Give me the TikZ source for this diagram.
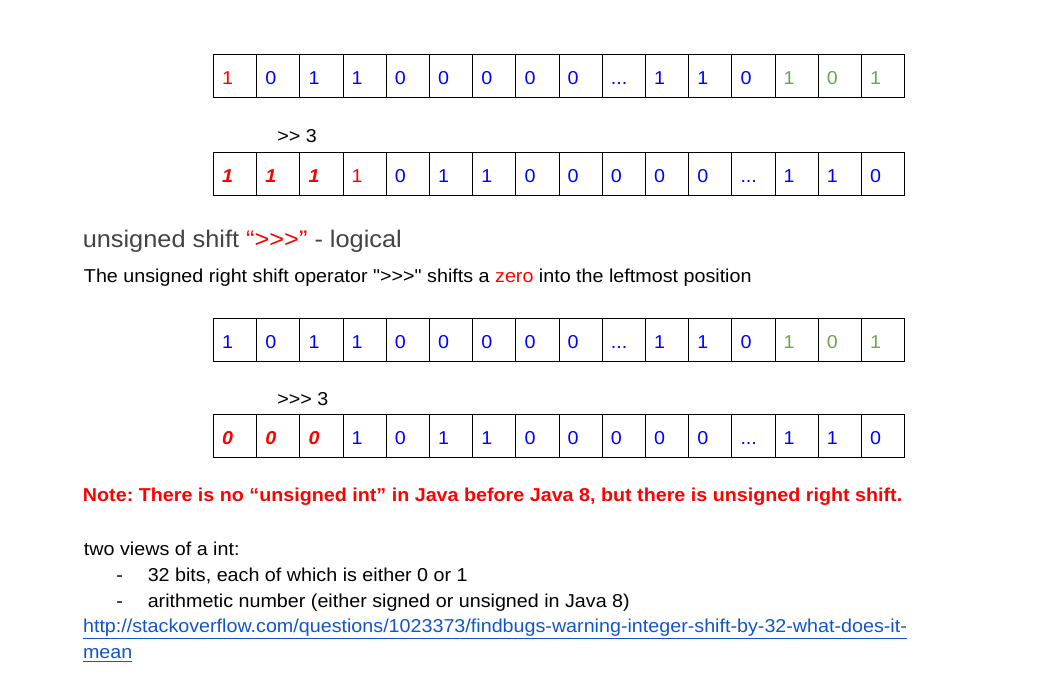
\documentclass[tikz,border=0pt]{standalone}
\usepackage{fontspec}
\usepackage{xcolor}
\usepackage{tikz}
\newfontfamily\gdocs{Liberation Sans}[FakeStretch=1.056]
\frenchspacing
\definecolor{bitred}{HTML}{FF0000}
\definecolor{bitblue}{HTML}{0000FF}
\definecolor{bitgreen}{HTML}{6AA84F}
\definecolor{headgray}{HTML}{434343}
\definecolor{linkblue}{HTML}{1155CC}
\tikzset{
  bitcell/.style={draw, line width=0.75pt, anchor=north west, inner xsep=6.45pt, inner ysep=0pt,
    text width=19.5pt, align=left, text height=22.5pt, text depth=9.75pt, text=bitblue,
    font=\gdocs\fontsize{14}{16}\selectfont},
  bitbold/.style={text=bitred, font=\gdocs\fontsize{14}{16}\selectfont\bfseries\itshape},
  doctext/.style={anchor=base west, inner sep=0pt, font=\gdocs\fontsize{14}{16}\selectfont},
}
\begin{document}
\begin{tikzpicture}[x=0.75pt,y=0.75pt,yscale=-1,xscale=1]
\path [use as bounding box] (0,0) rectangle (1040,691);
%Shape: Rectangle row (signed, before)
\draw (213.0,54.3) node [bitcell,text=bitred] (a1) {1};
\draw (256.2,54.3) node [bitcell] (a2) {0};
\draw (299.4,54.3) node [bitcell] (a3) {1};
\draw (342.6,54.3) node [bitcell] (a4) {1};
\draw (385.8,54.3) node [bitcell] (a5) {0};
\draw (429.0,54.3) node [bitcell] (a6) {0};
\draw (472.2,54.3) node [bitcell] (a7) {0};
\draw (515.4,54.3) node [bitcell] (a8) {0};
\draw (558.6,54.3) node [bitcell] (a9) {0};
\draw (601.8,54.3) node [bitcell] (a10) {...};
\draw (645.0,54.3) node [bitcell] (a11) {1};
\draw (688.2,54.3) node [bitcell] (a12) {1};
\draw (731.4,54.3) node [bitcell] (a13) {0};
\draw (774.6,54.3) node [bitcell,text=bitgreen] (a14) {1};
\draw (817.8,54.3) node [bitcell,text=bitgreen] (a15) {0};
\draw (861.0,54.3) node [bitcell,text=bitgreen] (a16) {1};
% Text Node
\draw (277,143) node [doctext] (shiftA) {>> 3};
%Shape: Rectangle row (signed, after)
\draw (213.0,151.7) node [bitcell,bitbold] (b1) {1};
\draw (256.2,151.7) node [bitcell,bitbold] (b2) {1};
\draw (299.4,151.7) node [bitcell,bitbold] (b3) {1};
\draw (342.6,151.7) node [bitcell,text=bitred] (b4) {1};
\draw (385.8,151.7) node [bitcell] (b5) {0};
\draw (429.0,151.7) node [bitcell] (b6) {1};
\draw (472.2,151.7) node [bitcell] (b7) {1};
\draw (515.4,151.7) node [bitcell] (b8) {0};
\draw (558.6,151.7) node [bitcell] (b9) {0};
\draw (601.8,151.7) node [bitcell] (b10) {0};
\draw (645.0,151.7) node [bitcell] (b11) {0};
\draw (688.2,151.7) node [bitcell] (b12) {0};
\draw (731.4,151.7) node [bitcell] (b13) {...};
\draw (774.6,151.7) node [bitcell] (b14) {1};
\draw (817.8,151.7) node [bitcell] (b15) {1};
\draw (861.0,151.7) node [bitcell] (b16) {0};
% Text Node
\draw (82.5,248) node [doctext,font=\gdocs\fontsize{18}{21}\selectfont,text=headgray] (heading) {unsigned shift \textcolor{bitred}{“>>>”} - logical};
% Text Node
\draw (83.7,283) node [doctext] (explain) {The unsigned right shift operator ">>>" shifts a \textcolor{bitred}{zero} into the leftmost position};
%Shape: Rectangle row (unsigned, before)
\draw (213.0,317.7) node [bitcell] (c1) {1};
\draw (256.2,317.7) node [bitcell] (c2) {0};
\draw (299.4,317.7) node [bitcell] (c3) {1};
\draw (342.6,317.7) node [bitcell] (c4) {1};
\draw (385.8,317.7) node [bitcell] (c5) {0};
\draw (429.0,317.7) node [bitcell] (c6) {0};
\draw (472.2,317.7) node [bitcell] (c7) {0};
\draw (515.4,317.7) node [bitcell] (c8) {0};
\draw (558.6,317.7) node [bitcell] (c9) {0};
\draw (601.8,317.7) node [bitcell] (c10) {...};
\draw (645.0,317.7) node [bitcell] (c11) {1};
\draw (688.2,317.7) node [bitcell] (c12) {1};
\draw (731.4,317.7) node [bitcell] (c13) {0};
\draw (774.6,317.7) node [bitcell,text=bitgreen] (c14) {1};
\draw (817.8,317.7) node [bitcell,text=bitgreen] (c15) {0};
\draw (861.0,317.7) node [bitcell,text=bitgreen] (c16) {1};
% Text Node
\draw (277,406) node [doctext] (shiftB) {>>> 3};
%Shape: Rectangle row (unsigned, after)
\draw (213.0,414.3) node [bitcell,bitbold] (d1) {0};
\draw (256.2,414.3) node [bitcell,bitbold] (d2) {0};
\draw (299.4,414.3) node [bitcell,bitbold] (d3) {0};
\draw (342.6,414.3) node [bitcell] (d4) {1};
\draw (385.8,414.3) node [bitcell] (d5) {0};
\draw (429.0,414.3) node [bitcell] (d6) {1};
\draw (472.2,414.3) node [bitcell] (d7) {1};
\draw (515.4,414.3) node [bitcell] (d8) {0};
\draw (558.6,414.3) node [bitcell] (d9) {0};
\draw (601.8,414.3) node [bitcell] (d10) {0};
\draw (645.0,414.3) node [bitcell] (d11) {0};
\draw (688.2,414.3) node [bitcell] (d12) {0};
\draw (731.4,414.3) node [bitcell] (d13) {...};
\draw (774.6,414.3) node [bitcell] (d14) {1};
\draw (817.8,414.3) node [bitcell] (d15) {1};
\draw (861.0,414.3) node [bitcell] (d16) {0};
% Text Node
\draw (82.7,502) node [doctext,text=bitred,font=\gdocs\fontsize{14}{16}\selectfont\bfseries] (note) {Note: There is no “unsigned int” in Java before Java 8, but there is unsigned right shift.};
% Text Node
\draw (83.7,556) node [doctext] (views) {two views of a int:};
\draw (116,582) node [doctext] (dashA) {-};
\draw (147.5,582) node [doctext] (viewA) {32 bits, each of which is either 0 or 1};
\draw (116,608) node [doctext] (dashB) {-};
\draw (147.5,608) node [doctext] (viewB) {arithmetic number (either signed or unsigned in Java 8)};
% Text Node
\draw (82.8,633) node [doctext,text=linkblue] (linkA) {\underline{http://stackoverflow.com/questions/1023373/findbugs-warning-integer-shift-by-32-what-does-it-}};
\draw (82.8,659) node [doctext,text=linkblue] (linkB) {\underline{mean}};
\end{tikzpicture}
\end{document}
